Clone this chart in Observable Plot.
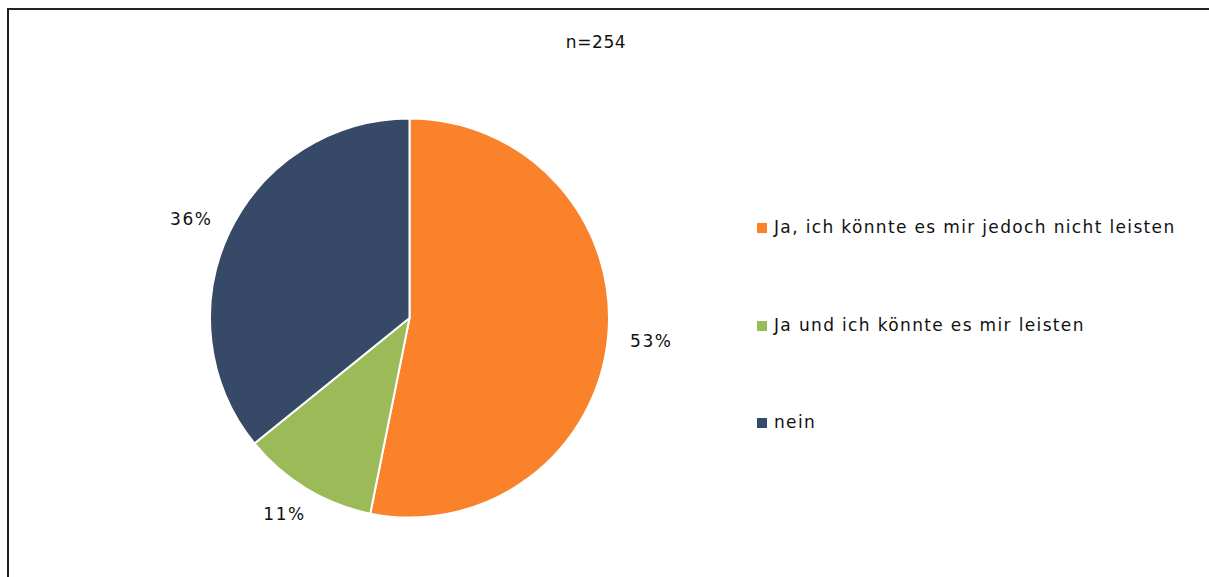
<!DOCTYPE html>
<html><head><meta charset="utf-8">
<script src="https://cdn.jsdelivr.net/npm/d3@7"></script>
<script src="https://cdn.jsdelivr.net/npm/@observablehq/plot@0.6"></script>
<style>
html,body{margin:0;padding:0;background:#fff;}
body{font-family:"DejaVu Sans",sans-serif;color:#111;}
#wrap{position:relative;width:1209px;height:577px;overflow:hidden;}
#frame{position:absolute;left:7px;top:8px;width:1400px;height:800px;border-left:2px solid #222;border-top:2px solid #222;box-sizing:border-box;pointer-events:none;}
#chart{position:absolute;left:0;top:0;}
#title{position:absolute;left:496px;width:200px;top:32px;text-align:center;font-size:17px;letter-spacing:0.6px;}
#legend{position:absolute;left:757px;top:0;}
.item{position:absolute;left:0;white-space:nowrap;font-size:17px;line-height:20px;height:20px;letter-spacing:1.35px;}
.sw{display:inline-block;width:10px;height:10px;margin-right:7px;vertical-align:0px;}
</style></head>
<body>
<div id="wrap">
  <div id="chart"></div>
  <div id="frame"></div>
  <div id="title"></div>
  <div id="legend"></div>
</div>
<script>
// ---- data ----
const categories = ["Ja, ich könnte es mir jedoch nicht leisten", "Ja und ich könnte es mir leisten", "nein"];
const counts = [135, 28, 91];
const colors = ["#F9822B", "#9BBB59", "#364A68"];
const total = 254;
const titleText = "n=" + total;

const data = categories.map((c, i) => ({category: c, count: counts[i]}));
const arcs = d3.pie().sort(null).value(d => d.count)(data);
const color = d3.scaleOrdinal(categories, colors);
// outside-end labels: gap beyond the rim plus half the label box
const gap = 0.1, halfW = 0.115, halfH = 0.05;
const labels = arcs.map(a => {
  const mid = (a.startAngle + a.endAngle) / 2;
  const ux = Math.sin(mid), uy = Math.cos(mid);
  return {
    lx: (1 + gap) * ux + halfW * ux,
    ly: (1 + gap) * uy + halfH * uy,
    text: Math.round(a.data.count / total * 100) + "%"
  };
});

const pieMark = (index, scales) => {
  const {x, y} = scales;
  const cx = x(0), cy = y(0), r = Math.abs(x(1) - x(0));
  const arc = d3.arc().innerRadius(0).outerRadius(r);
  const g = d3.create("svg:g").attr("transform", `translate(${cx},${cy})`);
  g.selectAll("path").data(arcs).join("path")
    .attr("d", arc)
    .attr("fill", d => color(d.data.category))
    .attr("stroke", "#fff")
    .attr("stroke-width", 2)
    .attr("stroke-linejoin", "round");
  return g.node();
};

const plot = Plot.plot({
  width: 1209,
  height: 577,
  margin: 0,
  x: {domain: [-1, 1], range: [210, 609], axis: null},
  y: {domain: [-1, 1], range: [517, 119], axis: null},
  style: {background: "transparent", fontFamily: "DejaVu Sans, sans-serif", fontSize: "17px", color: "#111"},
  marks: [
    pieMark,
    Plot.text(labels, {x: "lx", y: "ly", text: "text", fontSize: 17, fill: "#111", style: "letter-spacing:1.5px"})
  ]
});
plot.querySelectorAll("text").forEach(t => t.style.letterSpacing = "1.5px");
document.getElementById("chart").appendChild(plot);

document.getElementById("title").textContent = titleText;

const legendY = [217, 315, 412];
const legend = document.getElementById("legend");
categories.forEach((c, i) => {
  const it = document.createElement("div");
  it.className = "item";
  it.style.top = legendY[i] + "px";
  const sw = document.createElement("span");
  sw.className = "sw";
  sw.style.background = colors[i];
  it.appendChild(sw);
  it.appendChild(document.createTextNode(c));
  legend.appendChild(it);
});
</script>
</body></html>
